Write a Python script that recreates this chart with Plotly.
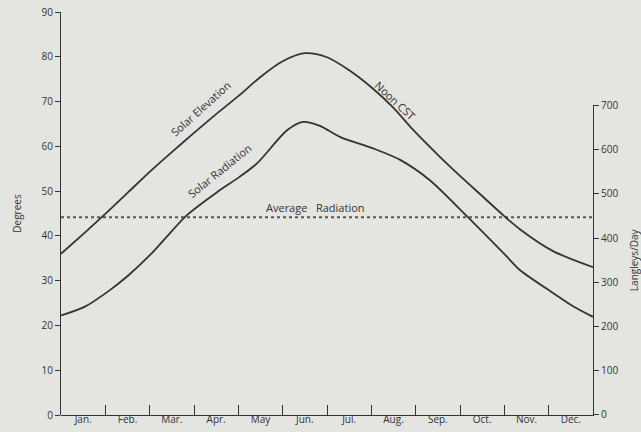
import plotly.graph_objects as go

# ---- data (month position: 0 = start of Jan, 12 = end of Dec) ----
months = ["Jan.", "Feb.", "Mar.", "Apr.", "May", "Jun.", "Jul.", "Aug.", "Sep.", "Oct.", "Nov.", "Dec."]

elev_x = [0.0, 0.5, 1.0, 1.5, 2.0, 2.5, 3.0, 3.5, 4.0, 4.5, 5.0, 5.5, 6.0, 6.5, 7.0, 7.5, 7.95, 8.5, 9.0, 9.5, 10.0, 10.35, 11.1, 12.0]
elev_deg = [36.0, 40.4, 44.9, 49.6, 54.3, 58.7, 63.0, 67.2, 71.2, 75.5, 79.0, 80.8, 79.9, 77.0, 73.2, 68.6, 63.6, 58.1, 53.4, 48.9, 44.4, 41.5, 36.6, 33.0]

rad_x = [0.0, 0.54, 1.11, 1.51, 2.01, 2.5, 2.84, 3.52, 4.02, 4.42, 5.1, 5.46, 5.84, 6.29, 7.04, 7.65, 8.32, 9.16, 10.02, 10.35, 11.1, 11.55, 12.0]
rad_ly = [225, 245, 283, 315, 362, 416, 452, 504, 538, 569, 644, 663, 654, 629, 603, 577, 531, 449, 362, 328, 276, 246, 222]

avg_x = [0, 12]
avg_ly = [447, 447]

deg_ticks = list(range(0, 91, 10))
ly_ticks = list(range(0, 701, 100))
month_centers = [i + 0.5 for i in range(12)]
month_bounds = list(range(1, 12))

INK = "#333333"
BG = "#e4e4e1"
FONT = "Open Sans"
CLEAR = "rgba(0,0,0,0)"

fig = go.Figure()
fig.add_trace(go.Scatter(x=elev_x, y=elev_deg, mode="lines", xaxis="x2", yaxis="y",
                         line=dict(color=INK, width=1.8, shape="spline", smoothing=0.8),
                         showlegend=False, hoverinfo="skip"))
fig.add_trace(go.Scatter(x=rad_x, y=rad_ly, mode="lines", xaxis="x", yaxis="y2",
                         line=dict(color=INK, width=1.8, shape="spline", smoothing=0.8),
                         showlegend=False, hoverinfo="skip"))
fig.add_trace(go.Scatter(x=avg_x, y=avg_ly, mode="lines", xaxis="x", yaxis="y2",
                         line=dict(color="#555555", width=2, dash="dot"),
                         showlegend=False, hoverinfo="skip"))

ann_font = dict(family=FONT, size=11, color=INK)
fig.add_annotation(x=3.15, y=68.4, xref="x", yref="y", text="Solar Elevation", textangle=-42, showarrow=False, font=ann_font)
fig.add_annotation(x=7.54, y=70.2, xref="x", yref="y", text="Noon CST", textangle=43, showarrow=False, font=ann_font)
fig.add_annotation(x=3.58, y=54.5, xref="x", yref="y", text="Solar Radiation", textangle=-39, showarrow=False, font=ann_font)
fig.add_annotation(x=5.73, y=46.4, xref="x", yref="y", text="Average\u00a0\u00a0\u00a0Radiation", showarrow=False, font=ann_font)

fig.update_layout(
    width=641, height=432,
    margin=dict(l=61, r=48, t=12, b=17),
    paper_bgcolor=BG, plot_bgcolor=CLEAR,
    font=dict(family=FONT, size=10, color=INK),
    # month boundary ticks (inside), no labels
    xaxis=dict(range=[0, 12], tickvals=month_bounds, ticks="inside", ticklen=10, tickcolor=INK,
               tickwidth=1, showticklabels=False,
               showline=True, linecolor=INK, linewidth=1.2, showgrid=False, zeroline=False,
               anchor="y", automargin=False),
    # month labels centred in each month
    xaxis2=dict(range=[0, 12], overlaying="x", anchor="y", side="bottom",
                tickvals=month_centers, ticktext=months, ticks="",
                showline=False, showgrid=False, zeroline=False,
                tickfont=dict(size=10), ticklabelstandoff=-3, automargin=False),
    yaxis=dict(range=[0, 90], tickvals=deg_ticks, ticks="outside", ticklen=5, tickcolor=INK,
               showline=True, linecolor=INK, linewidth=1.2, showgrid=False, zeroline=False,
               title=dict(text="Degrees", standoff=17, font=dict(size=10)), automargin=False),
    yaxis2=dict(range=[0, 700], domain=[0, 0.768], side="right", anchor="x",
                tickvals=ly_ticks, ticks="outside", ticklen=5, tickcolor=INK,
                showline=True, linecolor=INK, linewidth=1.2, showgrid=False, zeroline=False,
                title=dict(text="Langleys/Day", standoff=14, font=dict(size=10)), automargin=False),
)

fig.write_html("out.html", config={"displayModeBar": False},
               post_script="document.body.style.margin='0';document.body.style.background='%s';" % BG)
